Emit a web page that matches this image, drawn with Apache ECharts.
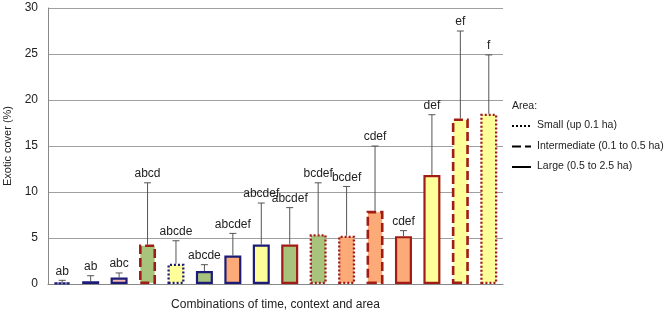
<!DOCTYPE html>
<html><head><meta charset="utf-8">
<script src="https://cdn.jsdelivr.net/npm/echarts@6/dist/echarts.min.js"></script>
<style>html,body{margin:0;padding:0;background:#fff}#c{width:666px;height:312px}</style>
</head><body><div id="c"></div>
<script>
const categories = ['1','2','3','4','5','6','7','8','9','10','11','12','13','14','15','16'];
const means = [0.15, 0.3, 0.7, 4.3, 2.2, 1.4, 3.1, 4.3, 4.3, 5.4, 5.25, 7.95, 5.2, 11.85, 18.0, 18.5];
const upper = [0.4, 0.9, 1.2, 11.0, 4.7, 2.1, 5.5, 8.8, 8.3, 11.0, 10.6, 15.0, 5.8, 18.4, 27.5, 24.9];
const letters = ['ab','ab','abc','abcd','abcde','abcde','abcdef','abcdef','abcdef','bcdef','bcdef','cdef','cdef','def','ef','f'];
const fills = ['pink','pink','pink','green','yellow','green','orange','yellow','green','green','orange','orange','orange','yellow','yellow','yellow'];
const borders = ['navy','navy','navy','red','navy','navy','navy','navy','red','red','red','red','red','red','red','red'];
const areas = ['small','large','large','inter','small','large','large','large','large','small','small','inter','large','large','inter','small'];
const legendItems = ['Small (up 0.1 ha)','Intermediate (0.1 to 0.5 ha)','Large (0.5 to 2.5 ha)'];

const fillColor = {pink:'#f6b8b0', green:'#a8c47c', yellow:'#ffff99', orange:'#fcaa78'};
const borderColor = {navy:'#1c1c78', red:'#a01c14'};
const FONT = '"Liberation Sans", Arial, sans-serif';

function styleFor(i){
  const a = areas[i];
  let type = 'solid', w = 2.2;
  if (a==='small'){ type=[2,2]; w=2.3; }
  if (a==='inter'){ type=[9,4]; w=2.6; }
  return {color: fillColor[fills[i]], borderColor: borderColor[borders[i]], borderWidth: w, borderType: type};
}

const chart = echarts.init(document.getElementById('c'), null, {renderer:'canvas'});
const legendTypes = [[2,2],[9,4],'solid'];
const graphics = [{type:'text', left:512, top:101, style:{text:'Area:', font:'10.5px '+FONT, fill:'#222'}}];
legendItems.forEach((t,k)=>{
  const y = 126 + k*20.5;
  graphics.push({type:'line', shape:{x1:512,y1:y,x2:531,y2:y}, style:{stroke:'#000', lineWidth:2, lineDash: legendTypes[k]==='solid'?null:legendTypes[k]}});
  graphics.push({type:'text', left:537, top:y-6, style:{text:t, font:'10.5px '+FONT, fill:'#222'}});
});

chart.setOption({
  animation:false,
  grid:{left:48, right:163, top:8, bottom:28, containLabel:false, outerBoundsMode:'none'},
  xAxis:{type:'category', data:categories, axisLabel:{show:false}, axisTick:{show:false},
    axisLine:{lineStyle:{color:'#888', width:1}},
    name:'Combinations of time, context and area', nameLocation:'middle', nameGap:15,
    nameTextStyle:{fontFamily:FONT, fontSize:12, color:'#222'}},
  yAxis:{type:'value', min:0, max:30, interval:5,
    axisLine:{show:true, lineStyle:{color:'#888'}}, axisTick:{show:false},
    splitLine:{lineStyle:{color:'#a0a0a0', width:1}},
    axisLabel:{fontFamily:FONT, fontSize:12, color:'#222', margin:10},
    name:'Exotic cover (%)', nameLocation:'middle', nameGap:30, nameRotate:90,
    nameTextStyle:{fontFamily:FONT, fontSize:11, color:'#222'}},
  graphic: graphics,
  series:[
    {type:'custom', z:1,
      data: means.map((m,i)=>[i, m, upper[i]]),
      renderItem:(params, api)=>{
        const i = api.value(0);
        const top = api.coord([i, api.value(1)]);
        const up = api.coord([i, api.value(2)]);
        return {type:'group', children:[
          {type:'line', shape:{x1:top[0], y1:top[1], x2:up[0], y2:up[1]}, style:{stroke:'#555', lineWidth:1}},
          {type:'line', shape:{x1:up[0]-3.5, y1:up[1], x2:up[0]+3.5, y2:up[1]}, style:{stroke:'#555', lineWidth:1}},
          {type:'text', x:up[0], y:up[1]-3, style:{text:letters[i], font:'12px '+FONT, fill:'#222', align:'center', verticalAlign:'bottom'}}
        ]};
      }
    },
    {type:'bar', z:2, barWidth:17,
      data: means.map((m,i)=>({value:m, itemStyle:styleFor(i)}))
    }
  ]
});
</script></body></html>
